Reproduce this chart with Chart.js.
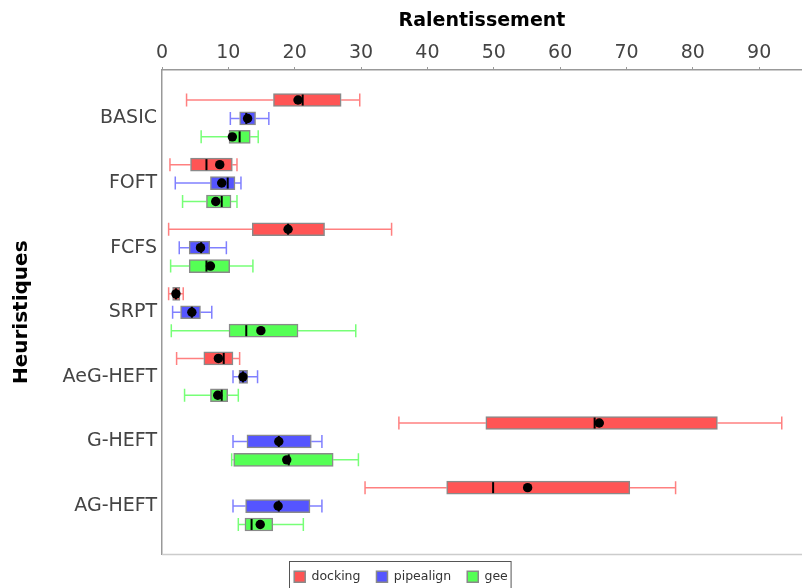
<!DOCTYPE html>
<html>
<head>
<meta charset="utf-8">
<script src="https://cdn.jsdelivr.net/npm/chart.js@4/dist/chart.umd.min.js"></script>
<style>
    html, body { margin: 0; padding: 0; background: #ffffff; }
    #wrap { width: 802px; height: 588px; }
</style>
</head>
<body>
<div id="wrap"><canvas id="boxChart"></canvas></div>
<script>
// Heuristics on the vertical axis
const heuristics = ['BASIC', 'FOFT', 'FCFS', 'SRPT', 'AeG-HEFT', 'G-HEFT', 'AG-HEFT'];
const xTicks = [0, 10, 20, 30, 40, 50, 60, 70, 80, 90];

// [min, q1, median, q3, max] per heuristic
const dockingBox = [
    [3.7, 16.8, 21.2, 27.0, 29.8],
    [1.2, 4.3, 6.7, 10.6, 11.3],
    [1.0, 13.6, 19.0, 24.5, 34.6],
    [1.0, 1.6, 2.1, 2.7, 3.2],
    [2.2, 6.3, 9.3, 10.7, 11.7],
    [35.7, 48.8, 65.2, 83.7, 93.4],
    [30.6, 42.9, 49.9, 70.5, 77.4]
];
const dockingMean = [20.5, 8.7, 19.0, 2.1, 8.5, 65.9, 55.1];

const pipealignBox = [
    [10.3, 11.7, 12.7, 14.1, 16.1],
    [2.0, 7.3, 9.9, 11.0, 11.9],
    [2.6, 4.1, 5.9, 7.2, 9.7],
    [1.6, 2.8, 4.5, 5.8, 7.5],
    [10.7, 11.6, 12.2, 12.9, 14.4],
    [10.7, 12.8, 17.6, 22.5, 24.1],
    [10.7, 12.6, 17.6, 22.3, 24.1]
];
const pipealignMean = [12.9, 9.0, 5.8, 4.5, 12.2, 17.6, 17.5];

const geeBox = [
    [5.9, 10.1, 11.7, 13.3, 14.5],
    [3.1, 6.7, 9.0, 10.4, 11.3],
    [1.3, 4.1, 6.7, 10.2, 13.7],
    [1.4, 10.1, 12.7, 20.5, 29.2],
    [3.4, 7.3, 9.0, 9.9, 11.5],
    [10.5, 10.8, 19.1, 25.8, 29.6],
    [11.5, 12.5, 13.5, 16.7, 21.3]
];
const geeMean = [10.6, 8.1, 7.3, 14.9, 8.4, 18.8, 14.8];

const series = [
    { label: 'docking', box: dockingBox, mean: dockingMean, fill: '#ff5555', whisker: 'rgba(255, 85, 85, 0.75)', offset: -0.285 },
    { label: 'pipealign', box: pipealignBox, mean: pipealignMean, fill: '#5555ff', whisker: 'rgba(85, 85, 255, 0.75)', offset: 0 },
    { label: 'gee', box: geeBox, mean: geeMean, fill: '#55ff55', whisker: 'rgba(85, 255, 85, 0.8)', offset: 0.285 }
];

const BOX_H = 13;

// whiskers behind the boxes, medians and means on top
const boxPlotExtras = {
    id: 'boxPlotExtras',
    beforeDatasetsDraw(chart) {
        const { ctx, scales: { x, y } } = chart;
        ctx.save();
        ctx.lineWidth = 1.5;
        series.forEach(s => {
            ctx.strokeStyle = s.whisker;
            s.box.forEach((b, i) => {
                const cy = y.getPixelForValue(i + s.offset);
                const lo = x.getPixelForValue(b[0]);
                const q1 = x.getPixelForValue(b[1]);
                const q3 = x.getPixelForValue(b[3]);
                const hi = x.getPixelForValue(b[4]);
                ctx.beginPath();
                ctx.moveTo(lo, cy); ctx.lineTo(q1, cy);
                ctx.moveTo(q3, cy); ctx.lineTo(hi, cy);
                ctx.moveTo(lo, cy - BOX_H / 2); ctx.lineTo(lo, cy + BOX_H / 2);
                ctx.moveTo(hi, cy - BOX_H / 2); ctx.lineTo(hi, cy + BOX_H / 2);
                ctx.stroke();
            });
        });
        ctx.restore();
    },
    afterDatasetsDraw(chart) {
        const { ctx, scales: { x, y } } = chart;
        ctx.save();
        series.forEach(s => {
            s.box.forEach((b, i) => {
                const cy = y.getPixelForValue(i + s.offset);
                const med = x.getPixelForValue(b[2]);
                ctx.strokeStyle = '#000000';
                ctx.lineWidth = 2;
                ctx.beginPath();
                ctx.moveTo(med, cy - BOX_H / 2 + 1);
                ctx.lineTo(med, cy + BOX_H / 2 - 1);
                ctx.stroke();

                ctx.fillStyle = '#000000';
                ctx.beginPath();
                ctx.arc(x.getPixelForValue(s.mean[i]), cy, 4.7, 0, Math.PI * 2);
                ctx.fill();
            });
        });
        ctx.restore();
    },
    afterDraw(chart) {
        const { ctx, chartArea } = chart;
        ctx.save();
        // bottom edge of the plot
        ctx.strokeStyle = '#cccccc';
        ctx.lineWidth = 1.5;
        ctx.beginPath();
        ctx.moveTo(chartArea.left, chartArea.bottom);
        ctx.lineTo(chartArea.right, chartArea.bottom);
        ctx.stroke();

        // frame round the legend
        const boxes = chart.legend.legendHitBoxes;
        if (boxes && boxes.length) {
            const left = Math.min(...boxes.map(h => h.left)) - 5;
            const right = Math.max(...boxes.map(h => h.left + h.width)) + 3;
            const top = Math.min(...boxes.map(h => h.top)) - 10;
            ctx.strokeStyle = '#555555';
            ctx.lineWidth = 1;
            ctx.strokeRect(Math.round(left) + 0.5, Math.round(top) + 0.5, right - left, chart.height - top + 5);
        }
        ctx.restore();
    }
};

function buildDatasets() {
    return series.map(s => ({
        label: s.label,
        data: s.box.map((b, i) => ({ x: [b[1], b[3]], y: i + s.offset })),
        backgroundColor: s.fill,
        borderColor: '#8a8a8a',
        borderWidth: 1.5,
        borderSkipped: false,
        grouped: false,
        barPercentage: 1,
        categoryPercentage: 1,
        maxBarThickness: BOX_H
    }));
}

function drawChart() {
    const ctx = document.getElementById('boxChart').getContext('2d');
    new Chart(ctx, {
        type: 'bar',
        data: { datasets: buildDatasets() },
        options: {
            indexAxis: 'y',
            responsive: true,
            maintainAspectRatio: false,
            animation: false,
            layout: { padding: { left: 0, right: 0, top: 0, bottom: -5 } },
            plugins: {
                tooltip: { enabled: false },
                legend: {
                    position: 'bottom',
                    labels: {
                        boxWidth: 11,
                        boxHeight: 11,
                        padding: 16,
                        color: '#333333',
                        font: { family: 'DejaVu Sans', size: 12.5 }
                    }
                }
            },
            scales: {
                x: {
                    type: 'linear',
                    position: 'top',
                    min: 0,
                    max: 96.45,
                    afterBuildTicks: scale => {
                        scale.ticks = xTicks.map(v => ({ value: v }));
                    },
                    afterFit: scale => { scale.height = 70; },
                    ticks: {
                        padding: 3,
                        color: '#444444',
                        font: { family: 'DejaVu Sans', size: 19 }
                    },
                    grid: {
                        drawOnChartArea: false,
                        drawTicks: true,
                        tickLength: 3,
                        color: '#999999'
                    },
                    border: { display: true, color: '#999999', width: 1.5 },
                    title: {
                        display: true,
                        text: 'Ralentissement',
                        color: '#000000',
                        font: { family: 'DejaVu Sans', size: 19, weight: 'bold' },
                        padding: { top: 10, bottom: 0 }
                    }
                },
                y: {
                    type: 'linear',
                    reverse: true,
                    offset: false,
                    min: -0.75,
                    max: 6.75,
                    afterBuildTicks: scale => {
                        scale.ticks = heuristics.map((_, i) => ({ value: i }));
                    },
                    afterFit: scale => { scale.width = 162; },
                    ticks: {
                        padding: 5,
                        color: '#444444',
                        font: { family: 'DejaVu Sans', size: 19 },
                        callback: value => heuristics[value]
                    },
                    grid: { drawOnChartArea: false, drawTicks: false },
                    border: { display: true, color: '#999999', width: 1.5 },
                    title: {
                        display: true,
                        text: 'Heuristiques',
                        color: '#000000',
                        font: { family: 'DejaVu Sans', size: 20, weight: 'bold' },
                        padding: { top: 10, bottom: 0 }
                    }
                }
            }
        },
        plugins: [boxPlotExtras]
    });
}

drawChart();
</script>
</body>
</html>
